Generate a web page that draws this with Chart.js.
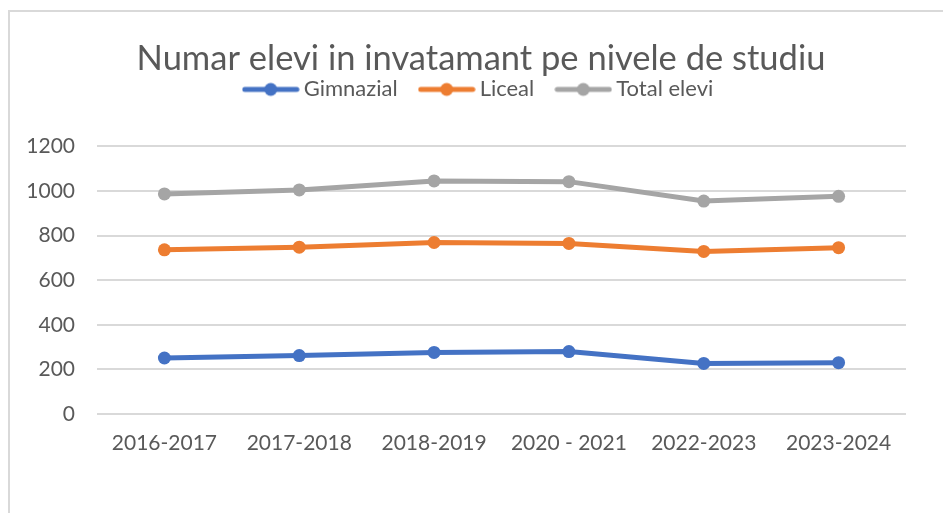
<!DOCTYPE html>
<html>
<head>
<meta charset="utf-8">
<script src="https://cdn.jsdelivr.net/npm/chart.js@4"></script>
<style>
    html, body { margin: 0; padding: 0; background: #ffffff; overflow: hidden; }
    #wrap { position: relative; width: 943px; height: 513px; }
    #frame { position: absolute; left: 8px; top: 10px; width: 1000px; height: 600px; border: 2px solid #d9d9d9; box-sizing: border-box; }
    canvas { position: absolute; left: 0; top: 0; }
</style>
</head>
<body>
<div id="wrap">
    <div id="frame"></div>
    <canvas id="chart" width="943" height="513"></canvas>
</div>
<script>
// Data
const years = ['2016-2017', '2017-2018', '2018-2019', '2020 - 2021', '2022-2023', '2023-2024'];
const gimnazial = [251, 262, 276, 280, 227, 230];
const liceal = [736, 748, 769, 765, 729, 746];
const totalElevi = [987, 1005, 1045, 1042, 955, 976];
const yTicks = [0, 200, 400, 600, 800, 1000, 1200];

const textColor = '#595959';
const fontFamily = 'Lato, "Open Sans", sans-serif';

// legend marker: line with a dot in the middle
function legendMarker(color) {
    const c = document.createElement('canvas');
    c.width = 58;
    c.height = 16;
    const g = c.getContext('2d');
    g.strokeStyle = color;
    g.lineWidth = 5;
    g.lineCap = 'round';
    g.beginPath();
    g.moveTo(3, 8);
    g.lineTo(55, 8);
    g.stroke();
    g.fillStyle = color;
    g.beginPath();
    g.arc(29, 8, 6.5, 0, Math.PI * 2);
    g.fill();
    return c;
}

function series(label, data, color) {
    return {
        label: label,
        data: data,
        borderColor: color,
        backgroundColor: color,
        borderWidth: 5,
        pointRadius: 6.5,
        pointHoverRadius: 6.5,
        pointBorderWidth: 0,
        pointStyle: 'circle',
        tension: 0,
        legendMarker: legendMarker(color)
    };
}

// fixed legend height, and title + legend centred over the whole frame
const headerPlugin = {
    id: 'header',
    beforeInit(chart) {
        const fit = chart.legend.fit;
        chart.legend.fit = function () {
            fit.bind(chart.legend)();
            this.height = 95;
        };
    },
    afterLayout(chart) {
        [chart.titleBlock, chart.legend].forEach(box => {
            box.left += 28;
            box.right += 28;
        });
    }
};

new Chart(document.getElementById('chart').getContext('2d'), {
    type: 'line',
    data: {
        labels: years,
        datasets: [
            series('Gimnazial', gimnazial, '#4472C4'),
            series('Liceal', liceal, '#ED7D31'),
            series('Total elevi', totalElevi, '#A5A5A5')
        ]
    },
    options: {
        responsive: false,
        animation: false,
        layout: { padding: { top: 28, right: 37, bottom: 0, left: 0 } },
        plugins: {
            title: {
                display: true,
                text: 'Numar elevi in invatamant pe nivele de studiu',
                color: textColor,
                font: { family: fontFamily, size: 34.5, weight: 'normal' },
                padding: { top: 10, bottom: -28 }
            },
            legend: {
                display: true,
                position: 'top',
                labels: {
                    color: textColor,
                    font: { family: fontFamily, size: 22 },
                    usePointStyle: true,
                    pointStyleWidth: 44,
                    padding: 27,
                    generateLabels(chart) {
                        return chart.data.datasets.map((ds, i) => ({
                            text: ds.label,
                            pointStyle: ds.legendMarker,
                            fillStyle: ds.borderColor,
                            strokeStyle: ds.borderColor,
                            fontColor: textColor,
                            lineWidth: 0,
                            hidden: false,
                            datasetIndex: i
                        }));
                    }
                }
            },
            tooltip: { enabled: false }
        },
        scales: {
            x: {
                offset: true,
                grid: { display: false, drawTicks: false },
                border: { display: false },
                ticks: {
                    color: textColor,
                    font: { family: fontFamily, size: 21 },
                    padding: 17,
                    maxRotation: 0,
                    autoSkip: false
                },
                afterFit(scale) { scale.height = 99; }
            },
            y: {
                min: 0,
                max: 1200,
                afterBuildTicks(scale) {
                    scale.ticks = yTicks.map(v => ({ value: v }));
                },
                grid: { color: '#d9d9d9', lineWidth: 2, drawTicks: false },
                border: { display: false },
                ticks: {
                    color: textColor,
                    font: { family: fontFamily, size: 21 },
                    padding: 22,
                    callback: v => String(v)
                },
                afterFit(scale) { scale.width = 97; }
            }
        }
    },
    plugins: [headerPlugin]
});
</script>
</body>
</html>
